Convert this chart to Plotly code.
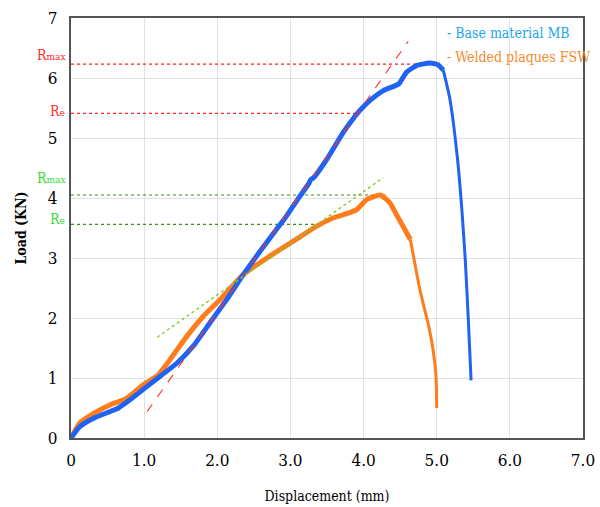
import plotly.graph_objects as go

# ---- data ----
base_rise_x = [0, 0.12, 0.31, 0.53, 0.65, 0.81, 1.04, 1.22, 1.45, 1.67, 1.90, 2.13, 2.36, 2.59, 2.81, 2.90, 3.13,
               3.25, 3.28, 3.31, 3.50, 3.72, 3.85, 3.95, 4.10, 4.27, 4.48, 4.52, 4.59, 4.73, 4.91, 5.02, 5.09]
base_rise_y = [0, 0.19, 0.33, 0.44, 0.50, 0.64, 0.86, 1.03, 1.25, 1.53, 1.92, 2.31, 2.73, 3.12, 3.48, 3.62, 4.03,
               4.24, 4.31, 4.33, 4.65, 5.09, 5.31, 5.46, 5.64, 5.79, 5.90, 5.97, 6.10, 6.21, 6.25, 6.22, 6.13]
base_fall_x = [5.09, 5.18, 5.28, 5.34, 5.39, 5.43, 5.47]
base_fall_y = [6.13, 5.65, 4.70, 3.87, 2.98, 2.03, 0.96]

fsw_rise_x = [0, 0.12, 0.31, 0.53, 0.76, 0.99, 1.19, 1.35, 1.58, 1.81, 2.04, 2.36, 2.68, 3.04, 3.36, 3.59,
              3.82, 3.91, 4.05, 4.23, 4.36, 4.46, 4.64]
fsw_rise_y = [0, 0.25, 0.41, 0.55, 0.66, 0.89, 1.05, 1.30, 1.69, 2.03, 2.31, 2.73, 3.00, 3.28, 3.53, 3.67,
              3.76, 3.81, 3.98, 4.05, 3.92, 3.70, 3.31]
fsw_fall_x = [4.64, 4.77, 4.88, 4.95, 4.99, 5.00]
fsw_fall_y = [3.31, 2.47, 1.92, 1.47, 1.03, 0.50]

# tangent lines
base_tangent_x = [1.04, 4.61]
base_tangent_y = [0.44, 6.61]
fsw_tangent_x = [1.18, 4.27]
fsw_tangent_y = [1.68, 4.34]

# reference levels: Rmax / Re (base, red) and Rmax / Re (FSW, green)
ref_levels = [6.23, 5.41, 4.05, 3.56]
ref_end_x = [4.98, 3.95, 4.30, 3.41]
ref_labels = ["R<span style='font-size:10px'>max</span>", "R<span style='font-size:10px'>e</span>",
              "R<span style='font-size:10px'>max</span>", "R<span style='font-size:10px'>e</span>"]
ref_line_colors = ["#ff2020", "#ff2020", "#3c8c1c", "#3c8c1c"]
ref_text_colors = ["#ff2a2a", "#ff2a2a", "#36d936", "#36d936"]
ref_text_offsets = [9, 2, 17, 5]

x_ticks = [0, 1, 2, 3, 4, 5, 6, 7]
x_tick_labels = ["0", "1.0", "2.0", "3.0", "4.0", "5.0", "6.0", "7.0"]
y_ticks = [0, 1, 2, 3, 4, 5, 6, 7]

legend_names = ["Base material MB", "Welded plaques FSW"]
legend_colors = ["#1aa8f0", "#f58a30"]

BLUE = "#1f63f2"
ORANGE = "#ff7c1c"
FONT = "DejaVu Serif Condensed, DejaVu Serif, serif"

fig = go.Figure()

# horizontal reference lines
for lvl, xe, col in zip(ref_levels, ref_end_x, ref_line_colors):
    fig.add_trace(go.Scatter(x=[0, xe], y=[lvl, lvl], mode="lines",
                             line=dict(color=col, width=1.2, dash="dot"), showlegend=False, hoverinfo="skip"))

fig.add_trace(go.Scatter(x=fsw_rise_x, y=fsw_rise_y, mode="lines", line=dict(color=ORANGE, width=5, shape="spline", smoothing=0.5),
                         showlegend=False))
fig.add_trace(go.Scatter(x=fsw_fall_x, y=fsw_fall_y, mode="lines", line=dict(color=ORANGE, width=3, shape="spline", smoothing=0.5),
                         showlegend=False))
fig.add_trace(go.Scatter(x=base_rise_x, y=base_rise_y, mode="lines", line=dict(color=BLUE, width=5, shape="spline", smoothing=0.5),
                         showlegend=False))
fig.add_trace(go.Scatter(x=base_fall_x, y=base_fall_y, mode="lines", line=dict(color=BLUE, width=3, shape="spline", smoothing=0.5),
                         showlegend=False))

# tangents
fig.add_trace(go.Scatter(x=base_tangent_x, y=base_tangent_y, mode="lines",
                         line=dict(color="#ff3030", width=1.1, dash="dash"), showlegend=False))
fig.add_trace(go.Scatter(x=fsw_tangent_x, y=fsw_tangent_y, mode="lines",
                         line=dict(color="#7ccf2a", width=1.4, dash="dot"), showlegend=False))

# level labels
for lvl, lab, col, off in zip(ref_levels, ref_labels, ref_text_colors, ref_text_offsets):
    fig.add_annotation(x=0, xref="paper", y=lvl, yref="y", text=lab, showarrow=False,
                       xanchor="right", yanchor="middle", xshift=-4, yshift=off,
                       font=dict(family=FONT, size=14, color=col))

# legend background box (hides gridlines, under the curves)
fig.add_shape(type="rect", xref="paper", yref="paper", x0=0.735, x1=0.995, y0=0.877, y1=0.995,
              fillcolor="white", line=dict(width=0), layer="between")

# text legend (two lines)
for i, (name, col) in enumerate(zip(legend_names, legend_colors)):
    fig.add_annotation(x=0.73, xref="paper", y=1, yref="paper", xanchor="left", yanchor="middle",
                       align="left", showarrow=False, yshift=-15 - 24 * i,
                       text=f"- {name}", font=dict(family=FONT, size=14, color=col))

fig.update_layout(
    width=600, height=507,
    margin=dict(l=71, r=17, t=18, b=69),
    paper_bgcolor="white", plot_bgcolor="white",
    font=dict(family=FONT, size=17, color="black"),
    xaxis=dict(range=[0, 7], tickvals=x_ticks, ticktext=x_tick_labels, showgrid=True, gridcolor="#e0e0e0",
               gridwidth=1, showline=True, linecolor="#555555", linewidth=2, mirror=True, zeroline=False,
               ticks="", ticklabelstandoff=6, automargin=False,
               title=dict(text="Displacement (mm)", font=dict(family=FONT, size=14), standoff=22)),
    yaxis=dict(range=[0, 7], tickvals=y_ticks, showgrid=True, gridcolor="#e0e0e0", gridwidth=1,
               showline=True, linecolor="#555555", linewidth=2, mirror=True, zeroline=False,
               ticks="", ticklabelstandoff=8, automargin=False,
               title=dict(text="<b>Load (KN)</b>", font=dict(family=FONT, size=14), standoff=18)),
)

fig.write_html("out.html", post_script="document.body.style.margin='0';",
               config={"displayModeBar": False})
